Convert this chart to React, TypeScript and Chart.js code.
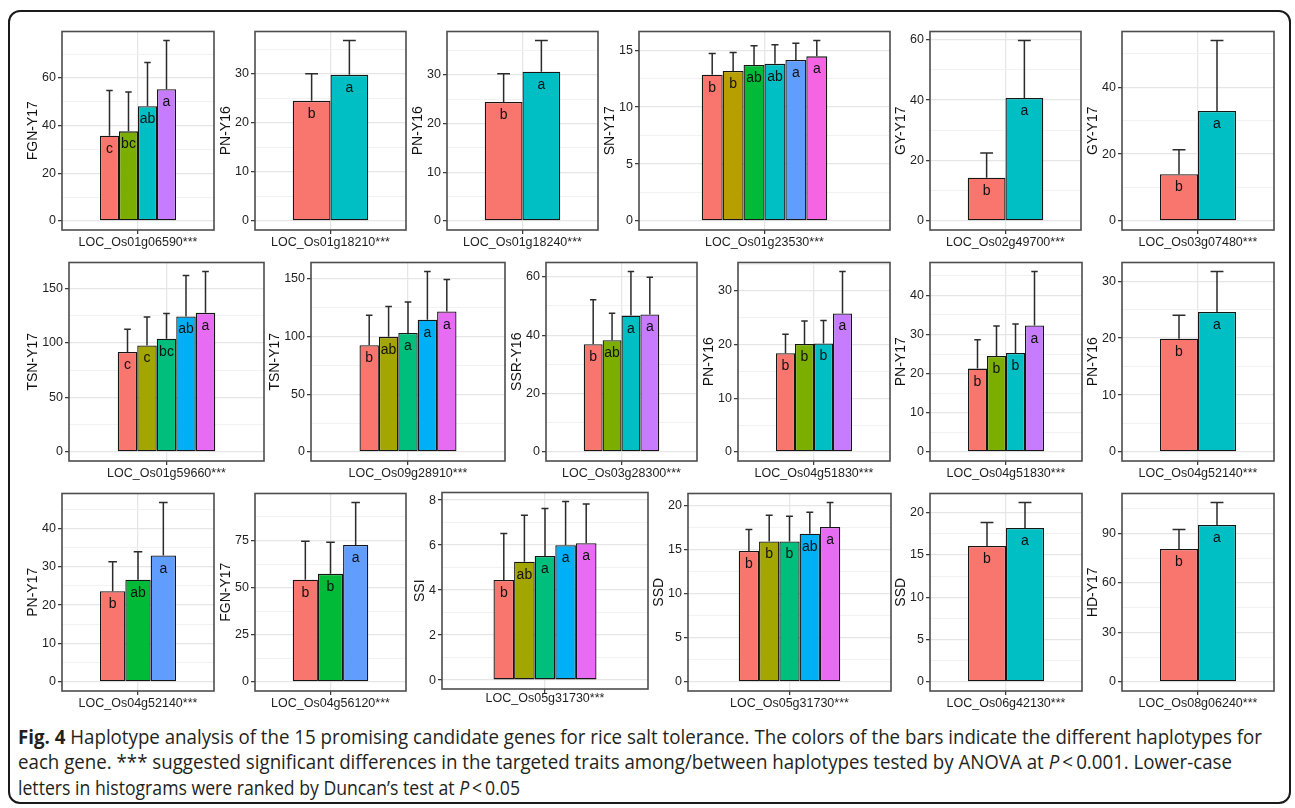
import React, { useEffect, useLayoutEffect, useRef } from 'react';
import { Chart, registerables } from 'chart.js';

Chart.register(...registerables);

const FONT = '"Liberation Sans", Arial, sans-serif';

// ggplot hue palettes
const HUE2 = ['#F8766D', '#00BFC4'];
const HUE3 = ['#F8766D', '#00BA38', '#619CFF'];
const HUE4 = ['#F8766D', '#7CAE00', '#00BFC4', '#C77CFF'];
const HUE5 = ['#F8766D', '#A3A500', '#00BF7D', '#00B0F6', '#E76BF3'];
const HUE6 = ['#F8766D', '#B79F00', '#00BA38', '#00BFC4', '#619CFF', '#F564E3'];

// ---------- data ----------
const p01Mean = [35.8, 37.6, 48.1, 55.3];
const p01Sd = [18.9, 16.5, 18.4, 20.4];
const p01Letters = ['c', 'bc', 'ab', 'a'];
const p01Ticks = [0, 20, 40, 60];

const p02Mean = [24.5, 29.8];
const p02Sd = [5.5, 7.0];
const p02Letters = ['b', 'a'];
const p02Ticks = [0, 10, 20, 30];

const p03Mean = [24.4, 30.6];
const p03Sd = [5.8, 6.4];
const p03Letters = ['b', 'a'];
const p03Ticks = [0, 10, 20, 30];

const p04Mean = [12.85, 13.17, 13.71, 13.8, 14.14, 14.46];
const p04Sd = [1.86, 1.63, 1.69, 1.68, 1.48, 1.39];
const p04Letters = ['b', 'b', 'ab', 'ab', 'a', 'a'];
const p04Ticks = [0, 5, 10, 15];

const p05Mean = [14.3, 40.7];
const p05Sd = [8.2, 19.0];
const p05Letters = ['b', 'a'];
const p05Ticks = [0, 20, 40, 60];

const p06Mean = [14.0, 32.9];
const p06Sd = [7.3, 21.1];
const p06Letters = ['b', 'a'];
const p06Ticks = [0, 20, 40];

const p07Mean = [91.8, 97.7, 103.9, 124.3, 127.6];
const p07Sd = [20.8, 26.0, 23.1, 37.6, 37.9];
const p07Letters = ['c', 'c', 'bc', 'ab', 'a'];
const p07Ticks = [0, 50, 100, 150];

const p08Mean = [92.5, 99.8, 103.2, 114.7, 121.7];
const p08Sd = [25.9, 26.2, 26.7, 41.7, 27.7];
const p08Letters = ['b', 'ab', 'a', 'a', 'a'];
const p08Ticks = [0, 50, 100, 150];

const p09Mean = [36.9, 38.3, 46.7, 47.1];
const p09Sd = [15.2, 9.2, 15.1, 12.7];
const p09Letters = ['b', 'ab', 'a', 'a'];
const p09Ticks = [0, 20, 40, 60];

const p10Mean = [18.4, 20.1, 20.2, 25.8];
const p10Sd = [3.5, 4.3, 4.3, 7.8];
const p10Letters = ['b', 'b', 'b', 'a'];
const p10Ticks = [0, 10, 20, 30];

const p11Mean = [21.3, 24.5, 25.3, 32.3];
const p11Sd = [7.4, 7.7, 7.4, 13.8];
const p11Letters = ['b', 'b', 'b', 'a'];
const p11Ticks = [0, 10, 20, 30, 40];

const p12Mean = [19.9, 24.6];
const p12Sd = [4.1, 7.1];
const p12Letters = ['b', 'a'];
const p12Ticks = [0, 10, 20, 30];

const p13Mean = [23.6, 26.6, 32.9];
const p13Sd = [7.7, 7.3, 13.8];
const p13Letters = ['b', 'ab', 'a'];
const p13Ticks = [0, 10, 20, 30, 40];

const p14Mean = [54.2, 57.3, 72.6];
const p14Sd = [20.4, 16.7, 22.5];
const p14Letters = ['b', 'b', 'a'];
const p14Ticks = [0, 25, 50, 75];

const p15Mean = [4.45, 5.26, 5.52, 5.99, 6.08];
const p15Sd = [2.06, 2.07, 2.11, 1.95, 1.75];
const p15Letters = ['b', 'ab', 'a', 'a', 'a'];
const p15Ticks = [0, 2, 4, 6, 8];

const p16Mean = [14.88, 15.96, 15.96, 16.84, 17.61];
const p16Sd = [2.43, 2.98, 2.87, 2.43, 2.77];
const p16Letters = ['b', 'b', 'b', 'ab', 'a'];
const p16Ticks = [0, 5, 10, 15, 20];

const p17Mean = [16.06, 18.2];
const p17Sd = [2.79, 3.0];
const p17Letters = ['b', 'a'];
const p17Ticks = [0, 5, 10, 15, 20];

const p18Mean = [80.6, 95.1];
const p18Sd = [11.7, 13.6];
const p18Letters = ['b', 'a'];
const p18Ticks = [0, 30, 60, 90];

const genes = [
  'LOC_Os01g06590***', 'LOC_Os01g18210***', 'LOC_Os01g18240***', 'LOC_Os01g23530***', 'LOC_Os02g49700***', 'LOC_Os03g07480***',
  'LOC_Os01g59660***', 'LOC_Os09g28910***', 'LOC_Os03g28300***', 'LOC_Os04g51830***', 'LOC_Os04g51830***', 'LOC_Os04g52140***',
  'LOC_Os04g52140***', 'LOC_Os04g56120***', 'LOC_Os05g31730***', 'LOC_Os05g31730***', 'LOC_Os06g42130***', 'LOC_Os08g06240***',
];
const traits = [
  'FGN-Y17', 'PN-Y16', 'PN-Y16', 'SN-Y17', 'GY-Y17', 'GY-Y17',
  'TSN-Y17', 'TSN-Y17', 'SSR-Y16', 'PN-Y16', 'PN-Y17', 'PN-Y16',
  'PN-Y17', 'FGN-Y17', 'SSI', 'SSD', 'SSD', 'HD-Y17',
];

// ---------- layout (plot rectangles, page px) ----------
const R1 = [27, 230];
const R2 = [258, 461];
const R3 = [489, 691];
const rects = [
  [62, 214, R1], [255, 406, R1], [447, 598, R1], [639, 890, R1], [930, 1081, R1], [1122, 1274, R1],
  [69, 264, R2], [311, 505, R2], [546, 697, R2], [738, 890, R2], [930, 1082, R2], [1122, 1274, R2],
  [62, 214, R3], [255, 406, R3], [442, 648, [488, 689]], [688, 891, R3], [930, 1082, R3], [1122, 1274, R3],
] as any[];
const xLabelPad = [1, 1, 1, 1, 1, 1, 1, 1, 1, 1, 1, 1, 1, 1, -2, 1, 1, 1];

const panelData = [
  [p01Mean, p01Sd, p01Letters, p01Ticks, HUE4],
  [p02Mean, p02Sd, p02Letters, p02Ticks, HUE2],
  [p03Mean, p03Sd, p03Letters, p03Ticks, HUE2],
  [p04Mean, p04Sd, p04Letters, p04Ticks, HUE6],
  [p05Mean, p05Sd, p05Letters, p05Ticks, HUE2],
  [p06Mean, p06Sd, p06Letters, p06Ticks, HUE2],
  [p07Mean, p07Sd, p07Letters, p07Ticks, HUE5],
  [p08Mean, p08Sd, p08Letters, p08Ticks, HUE5],
  [p09Mean, p09Sd, p09Letters, p09Ticks, HUE4],
  [p10Mean, p10Sd, p10Letters, p10Ticks, HUE4],
  [p11Mean, p11Sd, p11Letters, p11Ticks, HUE4],
  [p12Mean, p12Sd, p12Letters, p12Ticks, HUE2],
  [p13Mean, p13Sd, p13Letters, p13Ticks, HUE3],
  [p14Mean, p14Sd, p14Letters, p14Ticks, HUE3],
  [p15Mean, p15Sd, p15Letters, p15Ticks, HUE5],
  [p16Mean, p16Sd, p16Letters, p16Ticks, HUE5],
  [p17Mean, p17Sd, p17Letters, p17Ticks, HUE2],
  [p18Mean, p18Sd, p18Letters, p18Ticks, HUE2],
] as any[];

const LEFT = 62;
const RIGHT = 4;
const TOP = 5;
const BOTTOM = 28;
const TICK_LEN = 4;
const TICK_PAD = 2;

type Spec = {
  x0: number; x1: number; y0: number; y1: number;
  mean: number[]; sd: number[]; letters: string[]; ticks: number[]; colors: string[];
  gene: string; ytitle: string; xpad: number;
};

function Panel({ p }: { p: Spec }) {
  const ref = useRef<HTMLCanvasElement>(null);
  const W = p.x1 - p.x0 + LEFT + RIGHT;
  const H = p.y1 - p.y0 + TOP + BOTTOM;

  useEffect(() => {
    const top = Math.max(...p.mean.map((m, i) => m + p.sd[i]));
    const yMin = -0.05 * top;
    const yMax = 1.05 * top;
    const step = p.ticks[1] - p.ticks[0];
    const majors = new Set(p.ticks);
    const allTicks = [...p.ticks, ...p.ticks.map((v) => v + step / 2)]
      .filter((v) => v >= yMin && v <= yMax)
      .sort((a, b) => a - b);

    const plugin = {
      id: 'haplo',
      afterDatasetsDraw(chart: any) {
        const ctx = chart.ctx;
        const ys = chart.scales.y;
        ctx.save();
        p.mean.forEach((m, i) => {
          const bar = chart.getDatasetMeta(i).data[0] as any;
          const x = bar.x;
          const w = bar.width;
          const yT = ys.getPixelForValue(m + p.sd[i]);
          const yM = ys.getPixelForValue(m);
          ctx.strokeStyle = '#2B2B2B';
          ctx.lineWidth = 1.5;
          ctx.beginPath();
          ctx.moveTo(x, yM);
          ctx.lineTo(x, yT);
          ctx.moveTo(x - w * 0.17, yT);
          ctx.lineTo(x + w * 0.17, yT);
          ctx.stroke();
          ctx.fillStyle = '#111111';
          ctx.font = `14px ${FONT}`;
          ctx.textAlign = 'center';
          ctx.textBaseline = 'alphabetic';
          ctx.fillText(p.letters[i], x, yM + 17);
        });
        ctx.restore();
      },
      afterDraw(chart: any) {
        const ctx = chart.ctx;
        const a = chart.chartArea;
        ctx.save();
        ctx.strokeStyle = '#4D4D4D';
        ctx.lineWidth = 1.6;
        ctx.strokeRect(a.left, a.top, a.right - a.left, a.bottom - a.top);
        ctx.font = `12.5px ${FONT}`;
        const maxW = Math.max(...p.ticks.map((v) => ctx.measureText(String(v)).width));
        const tx = a.left - TICK_LEN - TICK_PAD - maxW - 9;
        ctx.translate(tx, (a.top + a.bottom) / 2);
        ctx.rotate(-Math.PI / 2);
        ctx.font = `14px ${FONT}`;
        ctx.fillStyle = '#111111';
        ctx.textAlign = 'center';
        ctx.textBaseline = 'middle';
        ctx.fillText(p.ytitle, 0, 0);
        ctx.restore();
      },
    };

    const chart = new Chart(ref.current as HTMLCanvasElement, {
      type: 'bar',
      data: {
        labels: [p.gene],
        datasets: p.mean.map((m, i) => ({
          data: [m],
          backgroundColor: p.colors[i],
          borderColor: '#161616',
          borderWidth: 1.3,
          borderSkipped: false,
          categoryPercentage: 0.5,
          barPercentage: 1,
        })),
      },
      options: {
        responsive: false,
        animation: false,
        devicePixelRatio: 1,
        layout: { padding: { left: 0, right: RIGHT, top: TOP, bottom: 0 } },
        plugins: { legend: { display: false }, tooltip: { enabled: false } },
        scales: {
          x: {
            type: 'category',
            offset: true,
            grid: { offset: false, color: '#E6E6E6', lineWidth: 1.3, tickColor: '#333333', tickWidth: 1.2, tickLength: TICK_LEN },
            border: { display: false },
            ticks: { font: { family: FONT, size: 12.5 }, color: '#1F1F1F', padding: p.xpad, maxRotation: 0, minRotation: 0 },
            afterFit: (s: any) => { s.height = BOTTOM; },
          },
          y: {
            type: 'linear',
            min: yMin,
            max: yMax,
            afterBuildTicks: (ax: any) => { ax.ticks = allTicks.map((v) => ({ value: v })); },
            grid: {
              color: (c: any) => (majors.has(c.tick?.value) ? '#E6E6E6' : '#F0F0F0'),
              lineWidth: (c: any) => (majors.has(c.tick?.value) ? 1.3 : 0.9),
              tickColor: (c: any) => (majors.has(c.tick?.value) ? '#333333' : 'rgba(0,0,0,0)'),
              tickWidth: 1.2,
              tickLength: TICK_LEN,
            },
            border: { display: false },
            ticks: {
              autoSkip: false,
              padding: TICK_PAD,
              font: { family: FONT, size: 12.5 },
              color: '#1F1F1F',
              callback: (v: any) => (majors.has(v) ? String(v) : ''),
            },
            afterFit: (s: any) => { s.width = LEFT; },
          },
        },
      } as any,
      plugins: [plugin],
    });
    return () => chart.destroy();
  }, []);

  return (
    <canvas
      ref={ref}
      width={W}
      height={H}
      style={{ position: 'absolute', left: p.x0 - LEFT, top: p.y0 - TOP, width: W, height: H }}
    />
  );
}

const captionTargets = [1244, 1214, 502];
const captionTops = [724, 749, 775];

function Caption() {
  const refs = [useRef<HTMLDivElement>(null), useRef<HTMLDivElement>(null), useRef<HTMLDivElement>(null)];
  useLayoutEffect(() => {
    const fit = () => {
      refs.forEach((r, i) => {
        const el = r.current;
        if (!el) return;
        el.style.transform = 'none';
        const w = el.getBoundingClientRect().width;
        if (w > 0) el.style.transform = `scaleX(${captionTargets[i] / w})`;
      });
    };
    fit();
    (document as any).fonts?.ready?.then(fit);
  }, []);
  const base: React.CSSProperties = {
    position: 'absolute',
    left: 18,
    whiteSpace: 'nowrap',
    transformOrigin: 'left top',
    fontFamily: '"Open Sans", "Noto Sans", sans-serif',
    fontSize: 19.5,
    lineHeight: '25px',
    color: '#231F20',
  };
  return (
    <>
      <div ref={refs[0]} style={{ ...base, top: captionTops[0] }}>
        <b>Fig. 4</b> Haplotype analysis of the 15 promising candidate genes for rice salt tolerance. The colors of the bars indicate the different haplotypes for
      </div>
      <div ref={refs[1]} style={{ ...base, top: captionTops[1] }}>
        each gene. *** suggested significant differences in the targeted traits among/between haplotypes tested by ANOVA at <i>P</i>&thinsp;&lt;&thinsp;0.001. Lower-case
      </div>
      <div ref={refs[2]} style={{ ...base, top: captionTops[2] }}>
        letters in histograms were ranked by Duncan’s test at <i>P</i>&thinsp;&lt;&thinsp;0.05
      </div>
    </>
  );
}

export default function App() {
  const specs: Spec[] = rects.map((r, i) => ({
    x0: r[0], x1: r[1], y0: r[2][0], y1: r[2][1],
    mean: panelData[i][0], sd: panelData[i][1], letters: panelData[i][2], ticks: panelData[i][3], colors: panelData[i][4],
    gene: genes[i], ytitle: traits[i], xpad: xLabelPad[i],
  }));
  return (
    <div style={{ position: 'absolute', left: 0, top: 0, width: 1295, height: 808, background: '#fff', overflow: 'hidden' }}>
      <div
        style={{
          position: 'absolute', left: 8, top: 10, width: 1283, height: 794, boxSizing: 'border-box',
          border: '2px solid #1A1A1A', borderRadius: 12,
        }}
      />
      {specs.map((s, i) => <Panel key={i} p={s} />)}
      <Caption />
    </div>
  );
}
